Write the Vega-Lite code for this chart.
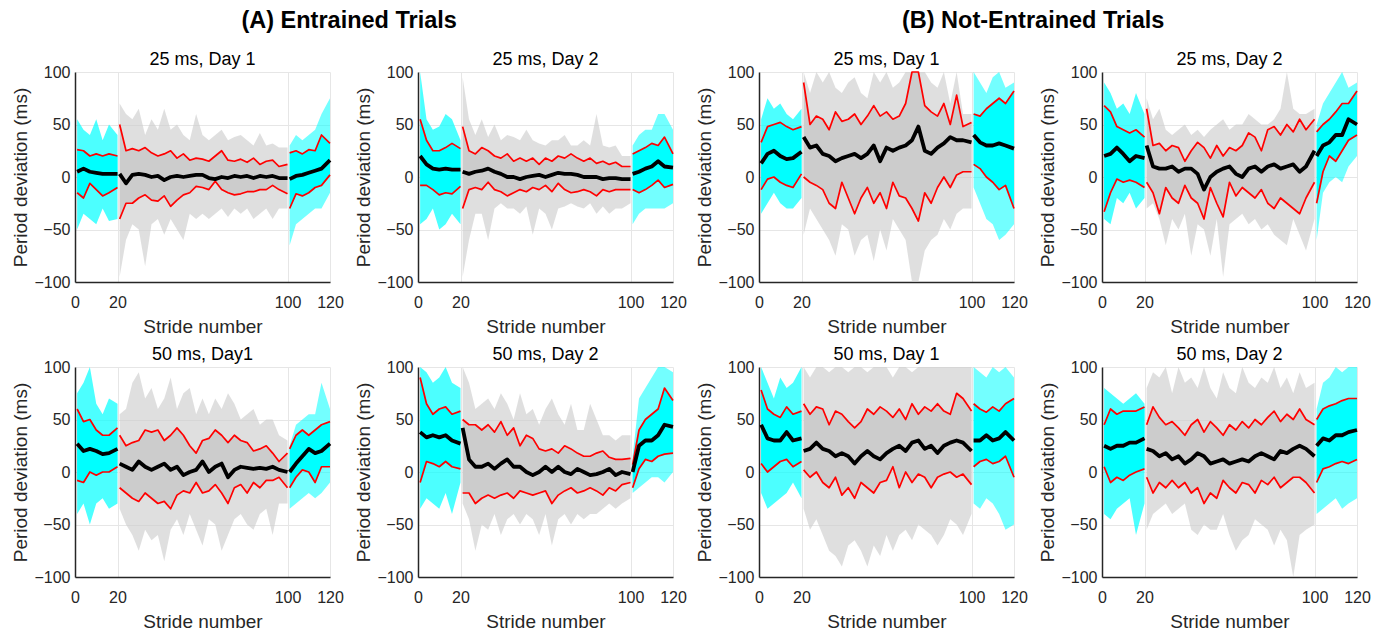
{
"$schema":"https://vega.github.io/schema/vega-lite/v6.json",
"background":"white",
"padding":{"left":11,"top":8,"right":0,"bottom":0},
"config":{"font":"Liberation Sans","view":{"stroke":null},
"axis":{"labelFontSize":16,"titleFontSize":19,"titleFontWeight":"normal","labelColor":"#262626","titleColor":"#262626","gridColor":"#e6e6e6","domainColor":"#262626","domainWidth":1.5,"ticks":false,"labelFlush":false},
"axisX":{"labelPadding":12,"titlePadding":7},
"axisY":{"labelPadding":5,"titlePadding":3},
"title":{"fontSize":18,"fontWeight":"normal","color":"#000000","offset":-5},
"line":{"strokeJoin":"round"}},
"data":{"values":[
{"p":1,"g":"pre","s":1,"m":5,"u":26,"l":-15,"a":-50,"b":55},
{"p":1,"g":"pre","s":4,"m":8,"u":25,"l":-20,"a":-35,"b":45},
{"p":1,"g":"pre","s":7,"m":5,"u":20,"l":-6,"a":-40,"b":40},
{"p":1,"g":"pre","s":10,"m":4,"u":22,"l":-12,"a":-45,"b":55},
{"p":1,"g":"pre","s":13,"m":3,"u":20,"l":-18,"a":-30,"b":35},
{"p":1,"g":"pre","s":16,"m":3,"u":22,"l":-15,"a":-42,"b":50},
{"p":1,"g":"pre","s":20,"m":3,"u":20,"l":-10,"a":-40,"b":40},
{"p":1,"g":"mid","s":21,"m":3,"u":50,"l":-40,"a":-95,"b":70},
{"p":1,"g":"mid","s":24,"m":-6,"u":25,"l":-25,"a":-60,"b":60},
{"p":1,"g":"mid","s":27,"m":2,"u":27,"l":-25,"a":-45,"b":55},
{"p":1,"g":"mid","s":30,"m":3,"u":25,"l":-20,"a":-50,"b":65},
{"p":1,"g":"mid","s":33,"m":2,"u":28,"l":-17,"a":-85,"b":40},
{"p":1,"g":"mid","s":36,"m":0,"u":23,"l":-22,"a":-45,"b":55},
{"p":1,"g":"mid","s":39,"m":1,"u":20,"l":-23,"a":-40,"b":45},
{"p":1,"g":"mid","s":42,"m":-3,"u":22,"l":-18,"a":-55,"b":65},
{"p":1,"g":"mid","s":45,"m":0,"u":25,"l":-28,"a":-40,"b":45},
{"p":1,"g":"mid","s":48,"m":1,"u":18,"l":-22,"a":-50,"b":50},
{"p":1,"g":"mid","s":51,"m":0,"u":22,"l":-17,"a":-60,"b":40},
{"p":1,"g":"mid","s":54,"m":1,"u":16,"l":-15,"a":-35,"b":35},
{"p":1,"g":"mid","s":57,"m":2,"u":18,"l":-9,"a":-40,"b":60},
{"p":1,"g":"mid","s":60,"m":2,"u":17,"l":-10,"a":-35,"b":40},
{"p":1,"g":"mid","s":63,"m":-1,"u":15,"l":-12,"a":-40,"b":35},
{"p":1,"g":"mid","s":66,"m":-2,"u":20,"l":-4,"a":-35,"b":40},
{"p":1,"g":"mid","s":69,"m":0,"u":25,"l":-12,"a":-30,"b":45},
{"p":1,"g":"mid","s":72,"m":-1,"u":16,"l":-15,"a":-38,"b":35},
{"p":1,"g":"mid","s":75,"m":1,"u":15,"l":-17,"a":-30,"b":38},
{"p":1,"g":"mid","s":78,"m":0,"u":17,"l":-16,"a":-35,"b":40},
{"p":1,"g":"mid","s":81,"m":1,"u":14,"l":-14,"a":-30,"b":35},
{"p":1,"g":"mid","s":84,"m":-1,"u":18,"l":-14,"a":-40,"b":30},
{"p":1,"g":"mid","s":87,"m":1,"u":12,"l":-12,"a":-35,"b":42},
{"p":1,"g":"mid","s":90,"m":0,"u":15,"l":-12,"a":-30,"b":30},
{"p":1,"g":"mid","s":93,"m":1,"u":16,"l":-8,"a":-40,"b":32},
{"p":1,"g":"mid","s":96,"m":-1,"u":10,"l":-12,"a":-30,"b":28},
{"p":1,"g":"mid","s":100,"m":-1,"u":12,"l":-16,"a":-30,"b":28},
{"p":1,"g":"post","s":101,"m":-2,"u":23,"l":-30,"a":-65,"b":30},
{"p":1,"g":"post","s":104,"m":1,"u":25,"l":-16,"a":-45,"b":40},
{"p":1,"g":"post","s":107,"m":2,"u":22,"l":-18,"a":-40,"b":35},
{"p":1,"g":"post","s":110,"m":4,"u":26,"l":-15,"a":-35,"b":40},
{"p":1,"g":"post","s":113,"m":6,"u":25,"l":-10,"a":-30,"b":45},
{"p":1,"g":"post","s":116,"m":8,"u":40,"l":-8,"a":-30,"b":60},
{"p":1,"g":"post","s":120,"m":16,"u":32,"l":2,"a":-15,"b":75},
{"p":2,"g":"pre","s":1,"m":20,"u":55,"l":-8,"a":-45,"b":100},
{"p":2,"g":"pre","s":4,"m":12,"u":35,"l":-8,"a":-40,"b":55},
{"p":2,"g":"pre","s":7,"m":8,"u":25,"l":-12,"a":-30,"b":45},
{"p":2,"g":"pre","s":10,"m":7,"u":25,"l":-17,"a":-50,"b":48},
{"p":2,"g":"pre","s":13,"m":8,"u":28,"l":-15,"a":-45,"b":60},
{"p":2,"g":"pre","s":16,"m":7,"u":32,"l":-16,"a":-35,"b":55},
{"p":2,"g":"pre","s":20,"m":7,"u":27,"l":-9,"a":-45,"b":35},
{"p":2,"g":"mid","s":21,"m":5,"u":48,"l":-30,"a":-95,"b":95},
{"p":2,"g":"mid","s":24,"m":3,"u":25,"l":-12,"a":-60,"b":55},
{"p":2,"g":"mid","s":27,"m":5,"u":22,"l":-10,"a":-35,"b":40},
{"p":2,"g":"mid","s":30,"m":6,"u":28,"l":-12,"a":-35,"b":55},
{"p":2,"g":"mid","s":33,"m":8,"u":25,"l":-5,"a":-60,"b":38},
{"p":2,"g":"mid","s":36,"m":5,"u":20,"l":-12,"a":-30,"b":50},
{"p":2,"g":"mid","s":39,"m":3,"u":18,"l":-14,"a":-25,"b":35},
{"p":2,"g":"mid","s":42,"m":0,"u":22,"l":-18,"a":-30,"b":40},
{"p":2,"g":"mid","s":45,"m":0,"u":15,"l":-15,"a":-30,"b":38},
{"p":2,"g":"mid","s":48,"m":-2,"u":18,"l":-12,"a":-35,"b":35},
{"p":2,"g":"mid","s":51,"m":0,"u":15,"l":-14,"a":-28,"b":45},
{"p":2,"g":"mid","s":54,"m":1,"u":18,"l":-10,"a":-55,"b":35},
{"p":2,"g":"mid","s":57,"m":2,"u":12,"l":-12,"a":-30,"b":32},
{"p":2,"g":"mid","s":60,"m":0,"u":18,"l":-8,"a":-35,"b":30},
{"p":2,"g":"mid","s":63,"m":2,"u":15,"l":-14,"a":-50,"b":35},
{"p":2,"g":"mid","s":66,"m":4,"u":20,"l":-6,"a":-30,"b":35},
{"p":2,"g":"mid","s":69,"m":3,"u":18,"l":-12,"a":-28,"b":40},
{"p":2,"g":"mid","s":72,"m":3,"u":22,"l":-15,"a":-25,"b":30},
{"p":2,"g":"mid","s":75,"m":2,"u":18,"l":-14,"a":-28,"b":30},
{"p":2,"g":"mid","s":78,"m":0,"u":15,"l":-12,"a":-30,"b":35},
{"p":2,"g":"mid","s":81,"m":0,"u":18,"l":-14,"a":-25,"b":30},
{"p":2,"g":"mid","s":84,"m":0,"u":13,"l":-18,"a":-35,"b":60},
{"p":2,"g":"mid","s":87,"m":-2,"u":15,"l":-12,"a":-28,"b":30},
{"p":2,"g":"mid","s":90,"m":-1,"u":12,"l":-14,"a":-35,"b":28},
{"p":2,"g":"mid","s":93,"m":-1,"u":14,"l":-12,"a":-30,"b":30},
{"p":2,"g":"mid","s":96,"m":-2,"u":10,"l":-12,"a":-30,"b":20},
{"p":2,"g":"mid","s":100,"m":-2,"u":10,"l":-12,"a":-25,"b":20},
{"p":2,"g":"post","s":101,"m":3,"u":22,"l":-12,"a":-45,"b":30},
{"p":2,"g":"post","s":104,"m":5,"u":25,"l":-15,"a":-35,"b":40},
{"p":2,"g":"post","s":107,"m":8,"u":28,"l":-12,"a":-30,"b":45},
{"p":2,"g":"post","s":110,"m":10,"u":32,"l":-8,"a":-30,"b":45},
{"p":2,"g":"post","s":113,"m":15,"u":30,"l":-3,"a":-30,"b":60},
{"p":2,"g":"post","s":116,"m":10,"u":38,"l":-10,"a":-30,"b":60},
{"p":2,"g":"post","s":120,"m":9,"u":22,"l":-7,"a":-25,"b":45},
{"p":3,"g":"pre","s":1,"m":13,"u":33,"l":-12,"a":-35,"b":55},
{"p":3,"g":"pre","s":4,"m":22,"u":48,"l":-2,"a":-25,"b":75},
{"p":3,"g":"pre","s":7,"m":25,"u":50,"l":0,"a":-15,"b":65},
{"p":3,"g":"pre","s":10,"m":20,"u":52,"l":-5,"a":-25,"b":70},
{"p":3,"g":"pre","s":13,"m":17,"u":48,"l":-8,"a":-30,"b":60},
{"p":3,"g":"pre","s":16,"m":18,"u":45,"l":-10,"a":-30,"b":55},
{"p":3,"g":"pre","s":20,"m":24,"u":48,"l":3,"a":-20,"b":65},
{"p":3,"g":"mid","s":21,"m":38,"u":90,"l":0,"a":-55,"b":100},
{"p":3,"g":"mid","s":24,"m":28,"u":50,"l":-5,"a":-30,"b":80},
{"p":3,"g":"mid","s":27,"m":30,"u":58,"l":-8,"a":-40,"b":100},
{"p":3,"g":"mid","s":30,"m":22,"u":55,"l":-12,"a":-50,"b":90},
{"p":3,"g":"mid","s":33,"m":20,"u":45,"l":-25,"a":-60,"b":100},
{"p":3,"g":"mid","s":36,"m":15,"u":62,"l":-30,"a":-75,"b":85},
{"p":3,"g":"mid","s":39,"m":18,"u":53,"l":-5,"a":-45,"b":80},
{"p":3,"g":"mid","s":42,"m":20,"u":55,"l":-20,"a":-50,"b":90},
{"p":3,"g":"mid","s":45,"m":22,"u":60,"l":-35,"a":-75,"b":95},
{"p":3,"g":"mid","s":48,"m":18,"u":50,"l":-20,"a":-60,"b":80},
{"p":3,"g":"mid","s":51,"m":22,"u":58,"l":-10,"a":-55,"b":75},
{"p":3,"g":"mid","s":54,"m":30,"u":68,"l":-25,"a":-80,"b":100},
{"p":3,"g":"mid","s":57,"m":15,"u":58,"l":-15,"a":-50,"b":90},
{"p":3,"g":"mid","s":60,"m":28,"u":62,"l":-30,"a":-70,"b":100},
{"p":3,"g":"mid","s":63,"m":25,"u":55,"l":-5,"a":-40,"b":85},
{"p":3,"g":"mid","s":66,"m":28,"u":58,"l":-18,"a":-50,"b":90},
{"p":3,"g":"mid","s":69,"m":30,"u":70,"l":-20,"a":-60,"b":100},
{"p":3,"g":"mid","s":72,"m":35,"u":100,"l":-30,"a":-100,"b":100},
{"p":3,"g":"mid","s":75,"m":48,"u":100,"l":-42,"a":-100,"b":100},
{"p":3,"g":"mid","s":78,"m":25,"u":68,"l":-15,"a":-70,"b":100},
{"p":3,"g":"mid","s":81,"m":22,"u":62,"l":-25,"a":-60,"b":90},
{"p":3,"g":"mid","s":84,"m":28,"u":58,"l":-10,"a":-55,"b":85},
{"p":3,"g":"mid","s":87,"m":32,"u":70,"l":0,"a":-40,"b":100},
{"p":3,"g":"mid","s":90,"m":38,"u":50,"l":-10,"a":-50,"b":70},
{"p":3,"g":"mid","s":93,"m":35,"u":78,"l":2,"a":-35,"b":100},
{"p":3,"g":"mid","s":96,"m":35,"u":48,"l":5,"a":-30,"b":60},
{"p":3,"g":"mid","s":100,"m":33,"u":52,"l":5,"a":-30,"b":60},
{"p":3,"g":"post","s":101,"m":40,"u":60,"l":12,"a":-10,"b":100},
{"p":3,"g":"post","s":104,"m":33,"u":58,"l":8,"a":-25,"b":90},
{"p":3,"g":"post","s":107,"m":30,"u":65,"l":0,"a":-40,"b":80},
{"p":3,"g":"post","s":110,"m":30,"u":70,"l":-5,"a":-45,"b":95},
{"p":3,"g":"post","s":113,"m":32,"u":75,"l":-12,"a":-60,"b":100},
{"p":3,"g":"post","s":116,"m":30,"u":70,"l":-8,"a":-55,"b":85},
{"p":3,"g":"post","s":120,"m":27,"u":82,"l":-30,"a":-45,"b":90},
{"p":4,"g":"pre","s":1,"m":20,"u":68,"l":-33,"a":-40,"b":90},
{"p":4,"g":"pre","s":4,"m":22,"u":62,"l":-15,"a":-45,"b":80},
{"p":4,"g":"pre","s":7,"m":28,"u":48,"l":-2,"a":-20,"b":65},
{"p":4,"g":"pre","s":10,"m":22,"u":45,"l":-5,"a":-25,"b":70},
{"p":4,"g":"pre","s":13,"m":15,"u":42,"l":-3,"a":-15,"b":60},
{"p":4,"g":"pre","s":16,"m":20,"u":45,"l":-5,"a":-30,"b":80},
{"p":4,"g":"pre","s":20,"m":18,"u":38,"l":-10,"a":-20,"b":60},
{"p":4,"g":"mid","s":21,"m":30,"u":65,"l":-5,"a":-30,"b":75},
{"p":4,"g":"mid","s":24,"m":10,"u":30,"l":-15,"a":-25,"b":55},
{"p":4,"g":"mid","s":27,"m":8,"u":32,"l":-35,"a":-40,"b":65},
{"p":4,"g":"mid","s":30,"m":8,"u":25,"l":-10,"a":-65,"b":45},
{"p":4,"g":"mid","s":33,"m":10,"u":30,"l":-20,"a":-40,"b":40},
{"p":4,"g":"mid","s":36,"m":5,"u":28,"l":-25,"a":-50,"b":45},
{"p":4,"g":"mid","s":39,"m":8,"u":15,"l":-8,"a":-35,"b":50},
{"p":4,"g":"mid","s":42,"m":8,"u":25,"l":-20,"a":-75,"b":40},
{"p":4,"g":"mid","s":45,"m":3,"u":33,"l":-25,"a":-45,"b":45},
{"p":4,"g":"mid","s":48,"m":-12,"u":28,"l":-40,"a":-50,"b":38},
{"p":4,"g":"mid","s":51,"m":0,"u":18,"l":-10,"a":-75,"b":45},
{"p":4,"g":"mid","s":54,"m":5,"u":30,"l":-25,"a":-40,"b":50},
{"p":4,"g":"mid","s":57,"m":8,"u":20,"l":-38,"a":-95,"b":55},
{"p":4,"g":"mid","s":60,"m":10,"u":28,"l":-5,"a":-45,"b":45},
{"p":4,"g":"mid","s":63,"m":3,"u":25,"l":-18,"a":-40,"b":50},
{"p":4,"g":"mid","s":66,"m":0,"u":30,"l":-10,"a":-35,"b":50},
{"p":4,"g":"mid","s":69,"m":8,"u":42,"l":-15,"a":-45,"b":60},
{"p":4,"g":"mid","s":72,"m":10,"u":38,"l":-20,"a":-40,"b":55},
{"p":4,"g":"mid","s":75,"m":5,"u":25,"l":-12,"a":-50,"b":50},
{"p":4,"g":"mid","s":78,"m":10,"u":45,"l":-25,"a":-45,"b":50},
{"p":4,"g":"mid","s":81,"m":12,"u":48,"l":-30,"a":-55,"b":55},
{"p":4,"g":"mid","s":84,"m":8,"u":40,"l":-20,"a":-60,"b":65},
{"p":4,"g":"mid","s":87,"m":10,"u":50,"l":-25,"a":-65,"b":100},
{"p":4,"g":"mid","s":90,"m":12,"u":43,"l":-30,"a":-40,"b":65},
{"p":4,"g":"mid","s":93,"m":5,"u":55,"l":-35,"a":-55,"b":60},
{"p":4,"g":"mid","s":96,"m":10,"u":45,"l":-20,"a":-70,"b":60},
{"p":4,"g":"mid","s":100,"m":25,"u":55,"l":-5,"a":-40,"b":65},
{"p":4,"g":"post","s":101,"m":20,"u":43,"l":-25,"a":-60,"b":50},
{"p":4,"g":"post","s":104,"m":30,"u":50,"l":5,"a":-15,"b":70},
{"p":4,"g":"post","s":107,"m":33,"u":55,"l":20,"a":-5,"b":80},
{"p":4,"g":"post","s":110,"m":40,"u":62,"l":15,"a":0,"b":90},
{"p":4,"g":"post","s":113,"m":40,"u":70,"l":25,"a":-5,"b":100},
{"p":4,"g":"post","s":116,"m":55,"u":70,"l":35,"a":10,"b":85},
{"p":4,"g":"post","s":120,"m":50,"u":82,"l":40,"a":20,"b":90},
{"p":5,"g":"pre","s":1,"m":27,"u":60,"l":-8,"a":-40,"b":75},
{"p":5,"g":"pre","s":4,"m":20,"u":48,"l":-10,"a":-30,"b":85},
{"p":5,"g":"pre","s":7,"m":22,"u":50,"l":0,"a":-50,"b":100},
{"p":5,"g":"pre","s":10,"m":20,"u":40,"l":-3,"a":-30,"b":65},
{"p":5,"g":"pre","s":13,"m":17,"u":35,"l":0,"a":-25,"b":55},
{"p":5,"g":"pre","s":16,"m":18,"u":35,"l":0,"a":-35,"b":70},
{"p":5,"g":"pre","s":20,"m":22,"u":42,"l":5,"a":-30,"b":65},
{"p":5,"g":"mid","s":21,"m":8,"u":35,"l":-15,"a":-35,"b":55},
{"p":5,"g":"mid","s":24,"m":5,"u":25,"l":-20,"a":-50,"b":60},
{"p":5,"g":"mid","s":27,"m":2,"u":28,"l":-25,"a":-60,"b":85},
{"p":5,"g":"mid","s":30,"m":10,"u":30,"l":-28,"a":-75,"b":95},
{"p":5,"g":"mid","s":33,"m":5,"u":40,"l":-20,"a":-55,"b":70},
{"p":5,"g":"mid","s":36,"m":2,"u":38,"l":-25,"a":-65,"b":80},
{"p":5,"g":"mid","s":39,"m":5,"u":40,"l":-30,"a":-60,"b":60},
{"p":5,"g":"mid","s":42,"m":8,"u":30,"l":-28,"a":-85,"b":70},
{"p":5,"g":"mid","s":45,"m":2,"u":35,"l":-35,"a":-55,"b":90},
{"p":5,"g":"mid","s":48,"m":5,"u":42,"l":-22,"a":-45,"b":60},
{"p":5,"g":"mid","s":51,"m":-3,"u":35,"l":-18,"a":-60,"b":75},
{"p":5,"g":"mid","s":54,"m":0,"u":25,"l":-20,"a":-40,"b":80},
{"p":5,"g":"mid","s":57,"m":2,"u":18,"l":-10,"a":-55,"b":55},
{"p":5,"g":"mid","s":60,"m":10,"u":30,"l":-20,"a":-70,"b":70},
{"p":5,"g":"mid","s":63,"m":0,"u":32,"l":-18,"a":-45,"b":55},
{"p":5,"g":"mid","s":66,"m":5,"u":40,"l":-12,"a":-50,"b":70},
{"p":5,"g":"mid","s":69,"m":8,"u":35,"l":-20,"a":-75,"b":60},
{"p":5,"g":"mid","s":72,"m":-5,"u":28,"l":-30,"a":-60,"b":75},
{"p":5,"g":"mid","s":75,"m":2,"u":35,"l":-15,"a":-45,"b":65},
{"p":5,"g":"mid","s":78,"m":5,"u":30,"l":-12,"a":-40,"b":50},
{"p":5,"g":"mid","s":81,"m":4,"u":28,"l":-20,"a":-50,"b":55},
{"p":5,"g":"mid","s":84,"m":3,"u":20,"l":-10,"a":-55,"b":60},
{"p":5,"g":"mid","s":87,"m":4,"u":22,"l":-15,"a":-40,"b":45},
{"p":5,"g":"mid","s":90,"m":3,"u":25,"l":-8,"a":-35,"b":50},
{"p":5,"g":"mid","s":93,"m":5,"u":18,"l":-8,"a":-60,"b":50},
{"p":5,"g":"mid","s":96,"m":2,"u":10,"l":-5,"a":-30,"b":35},
{"p":5,"g":"mid","s":100,"m":0,"u":18,"l":-15,"a":-30,"b":30},
{"p":5,"g":"post","s":101,"m":0,"u":22,"l":-15,"a":-35,"b":25},
{"p":5,"g":"post","s":104,"m":8,"u":35,"l":-5,"a":-30,"b":45},
{"p":5,"g":"post","s":107,"m":15,"u":40,"l":2,"a":-25,"b":50},
{"p":5,"g":"post","s":110,"m":22,"u":35,"l":0,"a":-20,"b":55},
{"p":5,"g":"post","s":113,"m":18,"u":40,"l":-10,"a":-25,"b":55},
{"p":5,"g":"post","s":116,"m":20,"u":45,"l":5,"a":-20,"b":85},
{"p":5,"g":"post","s":120,"m":27,"u":48,"l":5,"a":-10,"b":60},
{"p":6,"g":"pre","s":1,"m":38,"u":90,"l":-10,"a":-35,"b":100},
{"p":6,"g":"pre","s":4,"m":33,"u":65,"l":10,"a":-25,"b":95},
{"p":6,"g":"pre","s":7,"m":35,"u":55,"l":8,"a":-30,"b":85},
{"p":6,"g":"pre","s":10,"m":33,"u":60,"l":5,"a":-35,"b":90},
{"p":6,"g":"pre","s":13,"m":35,"u":62,"l":10,"a":-20,"b":100},
{"p":6,"g":"pre","s":16,"m":30,"u":55,"l":5,"a":-40,"b":85},
{"p":6,"g":"pre","s":20,"m":27,"u":58,"l":3,"a":-10,"b":80},
{"p":6,"g":"mid","s":21,"m":42,"u":50,"l":-20,"a":-30,"b":100},
{"p":6,"g":"mid","s":24,"m":12,"u":45,"l":-20,"a":-45,"b":85},
{"p":6,"g":"mid","s":27,"m":5,"u":45,"l":-30,"a":-75,"b":60},
{"p":6,"g":"mid","s":30,"m":5,"u":40,"l":-25,"a":-50,"b":65},
{"p":6,"g":"mid","s":33,"m":8,"u":45,"l":-22,"a":-55,"b":70},
{"p":6,"g":"mid","s":36,"m":3,"u":38,"l":-25,"a":-40,"b":60},
{"p":6,"g":"mid","s":39,"m":8,"u":48,"l":-22,"a":-60,"b":75},
{"p":6,"g":"mid","s":42,"m":12,"u":35,"l":-20,"a":-45,"b":65},
{"p":6,"g":"mid","s":45,"m":5,"u":42,"l":-25,"a":-40,"b":50},
{"p":6,"g":"mid","s":48,"m":5,"u":25,"l":-18,"a":-50,"b":75},
{"p":6,"g":"mid","s":51,"m":0,"u":35,"l":-20,"a":-40,"b":55},
{"p":6,"g":"mid","s":54,"m":-3,"u":32,"l":-22,"a":-45,"b":60},
{"p":6,"g":"mid","s":57,"m":0,"u":22,"l":-20,"a":-60,"b":45},
{"p":6,"g":"mid","s":60,"m":5,"u":20,"l":-18,"a":-40,"b":60},
{"p":6,"g":"mid","s":63,"m":0,"u":22,"l":-30,"a":-70,"b":70},
{"p":6,"g":"mid","s":66,"m":5,"u":18,"l":-22,"a":-45,"b":55},
{"p":6,"g":"mid","s":69,"m":0,"u":25,"l":-18,"a":-40,"b":45},
{"p":6,"g":"mid","s":72,"m":-2,"u":22,"l":-15,"a":-50,"b":65},
{"p":6,"g":"mid","s":75,"m":3,"u":18,"l":-20,"a":-40,"b":40},
{"p":6,"g":"mid","s":78,"m":0,"u":15,"l":-18,"a":-45,"b":40},
{"p":6,"g":"mid","s":81,"m":-3,"u":15,"l":-15,"a":-40,"b":65},
{"p":6,"g":"mid","s":84,"m":-2,"u":18,"l":-18,"a":-40,"b":50},
{"p":6,"g":"mid","s":87,"m":0,"u":20,"l":-22,"a":-35,"b":35},
{"p":6,"g":"mid","s":90,"m":3,"u":14,"l":-15,"a":-30,"b":35},
{"p":6,"g":"mid","s":93,"m":-3,"u":12,"l":-18,"a":-35,"b":30},
{"p":6,"g":"mid","s":96,"m":0,"u":12,"l":-12,"a":-30,"b":35},
{"p":6,"g":"mid","s":100,"m":-2,"u":13,"l":-10,"a":-25,"b":35},
{"p":6,"g":"post","s":101,"m":0,"u":7,"l":-15,"a":-20,"b":15},
{"p":6,"g":"post","s":104,"m":25,"u":40,"l":3,"a":-15,"b":70},
{"p":6,"g":"post","s":107,"m":30,"u":50,"l":12,"a":-10,"b":80},
{"p":6,"g":"post","s":110,"m":30,"u":55,"l":10,"a":-5,"b":90},
{"p":6,"g":"post","s":113,"m":35,"u":60,"l":15,"a":-5,"b":100},
{"p":6,"g":"post","s":116,"m":45,"u":80,"l":17,"a":-10,"b":100},
{"p":6,"g":"post","s":120,"m":43,"u":68,"l":18,"a":0,"b":95},
{"p":7,"g":"pre","s":1,"m":45,"u":78,"l":8,"a":-20,"b":100},
{"p":7,"g":"pre","s":4,"m":32,"u":60,"l":0,"a":-35,"b":85},
{"p":7,"g":"pre","s":7,"m":30,"u":55,"l":5,"a":-30,"b":70},
{"p":7,"g":"pre","s":10,"m":30,"u":52,"l":10,"a":-25,"b":90},
{"p":7,"g":"pre","s":13,"m":38,"u":62,"l":12,"a":-20,"b":80},
{"p":7,"g":"pre","s":16,"m":30,"u":55,"l":5,"a":-10,"b":85},
{"p":7,"g":"pre","s":20,"m":32,"u":58,"l":10,"a":-25,"b":100},
{"p":7,"g":"mid","s":21,"m":20,"u":65,"l":2,"a":-35,"b":100},
{"p":7,"g":"mid","s":24,"m":22,"u":55,"l":-5,"a":-55,"b":90},
{"p":7,"g":"mid","s":27,"m":28,"u":62,"l":0,"a":-45,"b":100},
{"p":7,"g":"mid","s":30,"m":22,"u":60,"l":-10,"a":-60,"b":100},
{"p":7,"g":"mid","s":33,"m":20,"u":45,"l":-15,"a":-75,"b":95},
{"p":7,"g":"mid","s":36,"m":15,"u":58,"l":-5,"a":-80,"b":100},
{"p":7,"g":"mid","s":39,"m":18,"u":55,"l":-22,"a":-90,"b":100},
{"p":7,"g":"mid","s":42,"m":15,"u":48,"l":-15,"a":-70,"b":95},
{"p":7,"g":"mid","s":45,"m":8,"u":42,"l":-25,"a":-65,"b":100},
{"p":7,"g":"mid","s":48,"m":15,"u":48,"l":-10,"a":-75,"b":100},
{"p":7,"g":"mid","s":51,"m":20,"u":60,"l":-15,"a":-90,"b":95},
{"p":7,"g":"mid","s":54,"m":15,"u":55,"l":-20,"a":-70,"b":100},
{"p":7,"g":"mid","s":57,"m":12,"u":62,"l":-10,"a":-80,"b":100},
{"p":7,"g":"mid","s":60,"m":18,"u":58,"l":-8,"a":-60,"b":100},
{"p":7,"g":"mid","s":63,"m":22,"u":52,"l":5,"a":-75,"b":90},
{"p":7,"g":"mid","s":66,"m":25,"u":60,"l":-15,"a":-60,"b":100},
{"p":7,"g":"mid","s":69,"m":20,"u":50,"l":0,"a":-55,"b":100},
{"p":7,"g":"mid","s":72,"m":28,"u":65,"l":-10,"a":-65,"b":95},
{"p":7,"g":"mid","s":75,"m":30,"u":55,"l":-2,"a":-50,"b":100},
{"p":7,"g":"mid","s":78,"m":22,"u":62,"l":-5,"a":-55,"b":100},
{"p":7,"g":"mid","s":81,"m":25,"u":58,"l":-15,"a":-60,"b":100},
{"p":7,"g":"mid","s":84,"m":18,"u":65,"l":-5,"a":-70,"b":100},
{"p":7,"g":"mid","s":87,"m":25,"u":58,"l":-2,"a":-60,"b":100},
{"p":7,"g":"mid","s":90,"m":28,"u":55,"l":0,"a":-45,"b":100},
{"p":7,"g":"mid","s":93,"m":30,"u":75,"l":-5,"a":-50,"b":100},
{"p":7,"g":"mid","s":96,"m":28,"u":70,"l":-2,"a":-60,"b":100},
{"p":7,"g":"mid","s":100,"m":20,"u":58,"l":-12,"a":-40,"b":100},
{"p":7,"g":"post","s":101,"m":30,"u":65,"l":5,"a":-30,"b":100},
{"p":7,"g":"post","s":104,"m":30,"u":60,"l":10,"a":-35,"b":95},
{"p":7,"g":"post","s":107,"m":35,"u":57,"l":12,"a":-25,"b":90},
{"p":7,"g":"post","s":110,"m":30,"u":62,"l":8,"a":-30,"b":100},
{"p":7,"g":"post","s":113,"m":32,"u":58,"l":10,"a":-40,"b":95},
{"p":7,"g":"post","s":116,"m":38,"u":65,"l":15,"a":-55,"b":100},
{"p":7,"g":"post","s":120,"m":30,"u":70,"l":-5,"a":-50,"b":90},
{"p":8,"g":"pre","s":1,"m":25,"u":45,"l":5,"a":-40,"b":80},
{"p":8,"g":"pre","s":4,"m":22,"u":60,"l":-10,"a":-45,"b":75},
{"p":8,"g":"pre","s":7,"m":25,"u":55,"l":-5,"a":-35,"b":70},
{"p":8,"g":"pre","s":10,"m":25,"u":58,"l":-8,"a":-30,"b":65},
{"p":8,"g":"pre","s":13,"m":28,"u":58,"l":-3,"a":-25,"b":70},
{"p":8,"g":"pre","s":16,"m":28,"u":58,"l":0,"a":-60,"b":75},
{"p":8,"g":"pre","s":20,"m":32,"u":62,"l":3,"a":-30,"b":65},
{"p":8,"g":"mid","s":21,"m":22,"u":45,"l":-5,"a":-55,"b":80},
{"p":8,"g":"mid","s":24,"m":20,"u":62,"l":-20,"a":-40,"b":95},
{"p":8,"g":"mid","s":27,"m":15,"u":52,"l":-10,"a":-35,"b":90},
{"p":8,"g":"mid","s":30,"m":18,"u":45,"l":-15,"a":-30,"b":100},
{"p":8,"g":"mid","s":33,"m":12,"u":48,"l":-8,"a":-40,"b":75},
{"p":8,"g":"mid","s":36,"m":15,"u":42,"l":-15,"a":-35,"b":100},
{"p":8,"g":"mid","s":39,"m":8,"u":35,"l":-10,"a":-30,"b":85},
{"p":8,"g":"mid","s":42,"m":12,"u":45,"l":-20,"a":-55,"b":90},
{"p":8,"g":"mid","s":45,"m":18,"u":50,"l":-15,"a":-60,"b":80},
{"p":8,"g":"mid","s":48,"m":15,"u":38,"l":-30,"a":-50,"b":100},
{"p":8,"g":"mid","s":51,"m":8,"u":48,"l":-20,"a":-55,"b":80},
{"p":8,"g":"mid","s":54,"m":10,"u":42,"l":-25,"a":-55,"b":70},
{"p":8,"g":"mid","s":57,"m":12,"u":35,"l":-8,"a":-40,"b":95},
{"p":8,"g":"mid","s":60,"m":8,"u":45,"l":-15,"a":-60,"b":80},
{"p":8,"g":"mid","s":63,"m":10,"u":40,"l":-20,"a":-75,"b":75},
{"p":8,"g":"mid","s":66,"m":12,"u":48,"l":-10,"a":-65,"b":100},
{"p":8,"g":"mid","s":69,"m":10,"u":42,"l":-12,"a":-60,"b":85},
{"p":8,"g":"mid","s":72,"m":15,"u":50,"l":-20,"a":-45,"b":80},
{"p":8,"g":"mid","s":75,"m":18,"u":45,"l":-8,"a":-50,"b":90},
{"p":8,"g":"mid","s":78,"m":15,"u":52,"l":-12,"a":-55,"b":85},
{"p":8,"g":"mid","s":81,"m":12,"u":58,"l":-5,"a":-70,"b":100},
{"p":8,"g":"mid","s":84,"m":20,"u":48,"l":-15,"a":-55,"b":80},
{"p":8,"g":"mid","s":87,"m":18,"u":55,"l":-10,"a":-65,"b":90},
{"p":8,"g":"mid","s":90,"m":22,"u":50,"l":-5,"a":-100,"b":75},
{"p":8,"g":"mid","s":93,"m":25,"u":60,"l":-5,"a":-60,"b":95},
{"p":8,"g":"mid","s":96,"m":22,"u":50,"l":-10,"a":-55,"b":80},
{"p":8,"g":"mid","s":100,"m":15,"u":45,"l":-20,"a":-50,"b":85},
{"p":8,"g":"post","s":101,"m":25,"u":50,"l":-10,"a":-40,"b":60},
{"p":8,"g":"post","s":104,"m":32,"u":60,"l":3,"a":-35,"b":85},
{"p":8,"g":"post","s":107,"m":30,"u":63,"l":5,"a":-30,"b":90},
{"p":8,"g":"post","s":110,"m":35,"u":65,"l":8,"a":-25,"b":100},
{"p":8,"g":"post","s":113,"m":35,"u":68,"l":10,"a":-35,"b":95},
{"p":8,"g":"post","s":116,"m":38,"u":70,"l":8,"a":-30,"b":100},
{"p":8,"g":"post","s":120,"m":40,"u":70,"l":12,"a":-25,"b":100}
]},
"spacing":8,
"hconcat":[
{"title":{"text":"(A) Entrained Trials","fontSize":23.5,"fontWeight":"bold","anchor":"middle","offset":19},
"columns":2,"spacing":{"row":85,"column":88},"bounds":"flush",
"concat":[
{"title":"25 ms, Day 1","width":255,"height":210,"transform":[{"filter":"datum.p==1"}],
"encoding":{"x":{"field":"s","type":"quantitative","scale":{"domain":[0,120],"nice":false,"zero":false},"axis":{"values":[0,20,100,120]},"title":"Stride number"}},
"layer":[
{"mark":{"type":"area"},"encoding":{"y":{"field":"a","type":"quantitative","stack":null,"scale":{"domain":[-100,100],"nice":false},"axis":{"values":[-100,-50,0,50,100]},"title":"Period deviation (ms)"},"y2":{"field":"b"},"color":{"field":"g","type":"nominal","scale":{"domain":["pre","mid","post"],"range":["#00ffff","#cccccc","#00ffff"]},"legend":null},"opacity":{"field":"g","type":"ordinal","scale":{"domain":["pre","mid","post"],"range":[0.7,0.55,0.7]},"legend":null}}},
{"mark":{"type":"area"},"encoding":{"y":{"field":"l","type":"quantitative","stack":null,"title":"Period deviation (ms)"},"y2":{"field":"u"},"color":{"field":"g","type":"nominal","legend":null}}},
{"mark":{"type":"line","color":"#ff0000","strokeWidth":1.7},"encoding":{"y":{"field":"u","type":"quantitative","title":"Period deviation (ms)"},"detail":{"field":"g"}}},
{"mark":{"type":"line","color":"#ff0000","strokeWidth":1.7},"encoding":{"y":{"field":"l","type":"quantitative","title":"Period deviation (ms)"},"detail":{"field":"g"}}},
{"mark":{"type":"line","color":"#000000","strokeWidth":3.8},"encoding":{"y":{"field":"m","type":"quantitative","title":"Period deviation (ms)"},"detail":{"field":"g"}}}]},
{"title":"25 ms, Day 2","width":255,"height":210,"transform":[{"filter":"datum.p==2"}],
"encoding":{"x":{"field":"s","type":"quantitative","scale":{"domain":[0,120],"nice":false,"zero":false},"axis":{"values":[0,20,100,120]},"title":"Stride number"}},
"layer":[
{"mark":{"type":"area"},"encoding":{"y":{"field":"a","type":"quantitative","stack":null,"scale":{"domain":[-100,100],"nice":false},"axis":{"values":[-100,-50,0,50,100]},"title":"Period deviation (ms)"},"y2":{"field":"b"},"color":{"field":"g","type":"nominal","scale":{"domain":["pre","mid","post"],"range":["#00ffff","#cccccc","#00ffff"]},"legend":null},"opacity":{"field":"g","type":"ordinal","scale":{"domain":["pre","mid","post"],"range":[0.7,0.55,0.7]},"legend":null}}},
{"mark":{"type":"area"},"encoding":{"y":{"field":"l","type":"quantitative","stack":null,"title":"Period deviation (ms)"},"y2":{"field":"u"},"color":{"field":"g","type":"nominal","legend":null}}},
{"mark":{"type":"line","color":"#ff0000","strokeWidth":1.7},"encoding":{"y":{"field":"u","type":"quantitative","title":"Period deviation (ms)"},"detail":{"field":"g"}}},
{"mark":{"type":"line","color":"#ff0000","strokeWidth":1.7},"encoding":{"y":{"field":"l","type":"quantitative","title":"Period deviation (ms)"},"detail":{"field":"g"}}},
{"mark":{"type":"line","color":"#000000","strokeWidth":3.8},"encoding":{"y":{"field":"m","type":"quantitative","title":"Period deviation (ms)"},"detail":{"field":"g"}}}]},
{"title":"50 ms, Day1","width":255,"height":210,"transform":[{"filter":"datum.p==5"}],
"encoding":{"x":{"field":"s","type":"quantitative","scale":{"domain":[0,120],"nice":false,"zero":false},"axis":{"values":[0,20,100,120]},"title":"Stride number"}},
"layer":[
{"mark":{"type":"area"},"encoding":{"y":{"field":"a","type":"quantitative","stack":null,"scale":{"domain":[-100,100],"nice":false},"axis":{"values":[-100,-50,0,50,100]},"title":"Period deviation (ms)"},"y2":{"field":"b"},"color":{"field":"g","type":"nominal","scale":{"domain":["pre","mid","post"],"range":["#00ffff","#cccccc","#00ffff"]},"legend":null},"opacity":{"field":"g","type":"ordinal","scale":{"domain":["pre","mid","post"],"range":[0.7,0.55,0.7]},"legend":null}}},
{"mark":{"type":"area"},"encoding":{"y":{"field":"l","type":"quantitative","stack":null,"title":"Period deviation (ms)"},"y2":{"field":"u"},"color":{"field":"g","type":"nominal","legend":null}}},
{"mark":{"type":"line","color":"#ff0000","strokeWidth":1.7},"encoding":{"y":{"field":"u","type":"quantitative","title":"Period deviation (ms)"},"detail":{"field":"g"}}},
{"mark":{"type":"line","color":"#ff0000","strokeWidth":1.7},"encoding":{"y":{"field":"l","type":"quantitative","title":"Period deviation (ms)"},"detail":{"field":"g"}}},
{"mark":{"type":"line","color":"#000000","strokeWidth":3.8},"encoding":{"y":{"field":"m","type":"quantitative","title":"Period deviation (ms)"},"detail":{"field":"g"}}}]},
{"title":"50 ms, Day 2","width":255,"height":210,"transform":[{"filter":"datum.p==6"}],
"encoding":{"x":{"field":"s","type":"quantitative","scale":{"domain":[0,120],"nice":false,"zero":false},"axis":{"values":[0,20,100,120]},"title":"Stride number"}},
"layer":[
{"mark":{"type":"area"},"encoding":{"y":{"field":"a","type":"quantitative","stack":null,"scale":{"domain":[-100,100],"nice":false},"axis":{"values":[-100,-50,0,50,100]},"title":"Period deviation (ms)"},"y2":{"field":"b"},"color":{"field":"g","type":"nominal","scale":{"domain":["pre","mid","post"],"range":["#00ffff","#cccccc","#00ffff"]},"legend":null},"opacity":{"field":"g","type":"ordinal","scale":{"domain":["pre","mid","post"],"range":[0.7,0.55,0.7]},"legend":null}}},
{"mark":{"type":"area"},"encoding":{"y":{"field":"l","type":"quantitative","stack":null,"title":"Period deviation (ms)"},"y2":{"field":"u"},"color":{"field":"g","type":"nominal","legend":null}}},
{"mark":{"type":"line","color":"#ff0000","strokeWidth":1.7},"encoding":{"y":{"field":"u","type":"quantitative","title":"Period deviation (ms)"},"detail":{"field":"g"}}},
{"mark":{"type":"line","color":"#ff0000","strokeWidth":1.7},"encoding":{"y":{"field":"l","type":"quantitative","title":"Period deviation (ms)"},"detail":{"field":"g"}}},
{"mark":{"type":"line","color":"#000000","strokeWidth":3.8},"encoding":{"y":{"field":"m","type":"quantitative","title":"Period deviation (ms)"},"detail":{"field":"g"}}}]}
]},
{"title":{"text":"(B) Not-Entrained Trials","fontSize":23.5,"fontWeight":"bold","anchor":"middle","offset":19},
"columns":2,"spacing":{"row":85,"column":88},"bounds":"flush",
"concat":[
{"title":"25 ms, Day 1","width":255,"height":210,"transform":[{"filter":"datum.p==3"}],
"encoding":{"x":{"field":"s","type":"quantitative","scale":{"domain":[0,120],"nice":false,"zero":false},"axis":{"values":[0,20,100,120]},"title":"Stride number"}},
"layer":[
{"mark":{"type":"area"},"encoding":{"y":{"field":"a","type":"quantitative","stack":null,"scale":{"domain":[-100,100],"nice":false},"axis":{"values":[-100,-50,0,50,100]},"title":"Period deviation (ms)"},"y2":{"field":"b"},"color":{"field":"g","type":"nominal","scale":{"domain":["pre","mid","post"],"range":["#00ffff","#cccccc","#00ffff"]},"legend":null},"opacity":{"field":"g","type":"ordinal","scale":{"domain":["pre","mid","post"],"range":[0.7,0.55,0.7]},"legend":null}}},
{"mark":{"type":"area"},"encoding":{"y":{"field":"l","type":"quantitative","stack":null,"title":"Period deviation (ms)"},"y2":{"field":"u"},"color":{"field":"g","type":"nominal","legend":null}}},
{"mark":{"type":"line","color":"#ff0000","strokeWidth":1.7},"encoding":{"y":{"field":"u","type":"quantitative","title":"Period deviation (ms)"},"detail":{"field":"g"}}},
{"mark":{"type":"line","color":"#ff0000","strokeWidth":1.7},"encoding":{"y":{"field":"l","type":"quantitative","title":"Period deviation (ms)"},"detail":{"field":"g"}}},
{"mark":{"type":"line","color":"#000000","strokeWidth":3.8},"encoding":{"y":{"field":"m","type":"quantitative","title":"Period deviation (ms)"},"detail":{"field":"g"}}}]},
{"title":"25 ms, Day 2","width":255,"height":210,"transform":[{"filter":"datum.p==4"}],
"encoding":{"x":{"field":"s","type":"quantitative","scale":{"domain":[0,120],"nice":false,"zero":false},"axis":{"values":[0,20,100,120]},"title":"Stride number"}},
"layer":[
{"mark":{"type":"area"},"encoding":{"y":{"field":"a","type":"quantitative","stack":null,"scale":{"domain":[-100,100],"nice":false},"axis":{"values":[-100,-50,0,50,100]},"title":"Period deviation (ms)"},"y2":{"field":"b"},"color":{"field":"g","type":"nominal","scale":{"domain":["pre","mid","post"],"range":["#00ffff","#cccccc","#00ffff"]},"legend":null},"opacity":{"field":"g","type":"ordinal","scale":{"domain":["pre","mid","post"],"range":[0.7,0.55,0.7]},"legend":null}}},
{"mark":{"type":"area"},"encoding":{"y":{"field":"l","type":"quantitative","stack":null,"title":"Period deviation (ms)"},"y2":{"field":"u"},"color":{"field":"g","type":"nominal","legend":null}}},
{"mark":{"type":"line","color":"#ff0000","strokeWidth":1.7},"encoding":{"y":{"field":"u","type":"quantitative","title":"Period deviation (ms)"},"detail":{"field":"g"}}},
{"mark":{"type":"line","color":"#ff0000","strokeWidth":1.7},"encoding":{"y":{"field":"l","type":"quantitative","title":"Period deviation (ms)"},"detail":{"field":"g"}}},
{"mark":{"type":"line","color":"#000000","strokeWidth":3.8},"encoding":{"y":{"field":"m","type":"quantitative","title":"Period deviation (ms)"},"detail":{"field":"g"}}}]},
{"title":"50 ms, Day 1","width":255,"height":210,"transform":[{"filter":"datum.p==7"}],
"encoding":{"x":{"field":"s","type":"quantitative","scale":{"domain":[0,120],"nice":false,"zero":false},"axis":{"values":[0,20,100,120]},"title":"Stride number"}},
"layer":[
{"mark":{"type":"area"},"encoding":{"y":{"field":"a","type":"quantitative","stack":null,"scale":{"domain":[-100,100],"nice":false},"axis":{"values":[-100,-50,0,50,100]},"title":"Period deviation (ms)"},"y2":{"field":"b"},"color":{"field":"g","type":"nominal","scale":{"domain":["pre","mid","post"],"range":["#00ffff","#cccccc","#00ffff"]},"legend":null},"opacity":{"field":"g","type":"ordinal","scale":{"domain":["pre","mid","post"],"range":[0.7,0.55,0.7]},"legend":null}}},
{"mark":{"type":"area"},"encoding":{"y":{"field":"l","type":"quantitative","stack":null,"title":"Period deviation (ms)"},"y2":{"field":"u"},"color":{"field":"g","type":"nominal","legend":null}}},
{"mark":{"type":"line","color":"#ff0000","strokeWidth":1.7},"encoding":{"y":{"field":"u","type":"quantitative","title":"Period deviation (ms)"},"detail":{"field":"g"}}},
{"mark":{"type":"line","color":"#ff0000","strokeWidth":1.7},"encoding":{"y":{"field":"l","type":"quantitative","title":"Period deviation (ms)"},"detail":{"field":"g"}}},
{"mark":{"type":"line","color":"#000000","strokeWidth":3.8},"encoding":{"y":{"field":"m","type":"quantitative","title":"Period deviation (ms)"},"detail":{"field":"g"}}}]},
{"title":"50 ms, Day 2","width":255,"height":210,"transform":[{"filter":"datum.p==8"}],
"encoding":{"x":{"field":"s","type":"quantitative","scale":{"domain":[0,120],"nice":false,"zero":false},"axis":{"values":[0,20,100,120]},"title":"Stride number"}},
"layer":[
{"mark":{"type":"area"},"encoding":{"y":{"field":"a","type":"quantitative","stack":null,"scale":{"domain":[-100,100],"nice":false},"axis":{"values":[-100,-50,0,50,100]},"title":"Period deviation (ms)"},"y2":{"field":"b"},"color":{"field":"g","type":"nominal","scale":{"domain":["pre","mid","post"],"range":["#00ffff","#cccccc","#00ffff"]},"legend":null},"opacity":{"field":"g","type":"ordinal","scale":{"domain":["pre","mid","post"],"range":[0.7,0.55,0.7]},"legend":null}}},
{"mark":{"type":"area"},"encoding":{"y":{"field":"l","type":"quantitative","stack":null,"title":"Period deviation (ms)"},"y2":{"field":"u"},"color":{"field":"g","type":"nominal","legend":null}}},
{"mark":{"type":"line","color":"#ff0000","strokeWidth":1.7},"encoding":{"y":{"field":"u","type":"quantitative","title":"Period deviation (ms)"},"detail":{"field":"g"}}},
{"mark":{"type":"line","color":"#ff0000","strokeWidth":1.7},"encoding":{"y":{"field":"l","type":"quantitative","title":"Period deviation (ms)"},"detail":{"field":"g"}}},
{"mark":{"type":"line","color":"#000000","strokeWidth":3.8},"encoding":{"y":{"field":"m","type":"quantitative","title":"Period deviation (ms)"},"detail":{"field":"g"}}}]}
]}
]
}
